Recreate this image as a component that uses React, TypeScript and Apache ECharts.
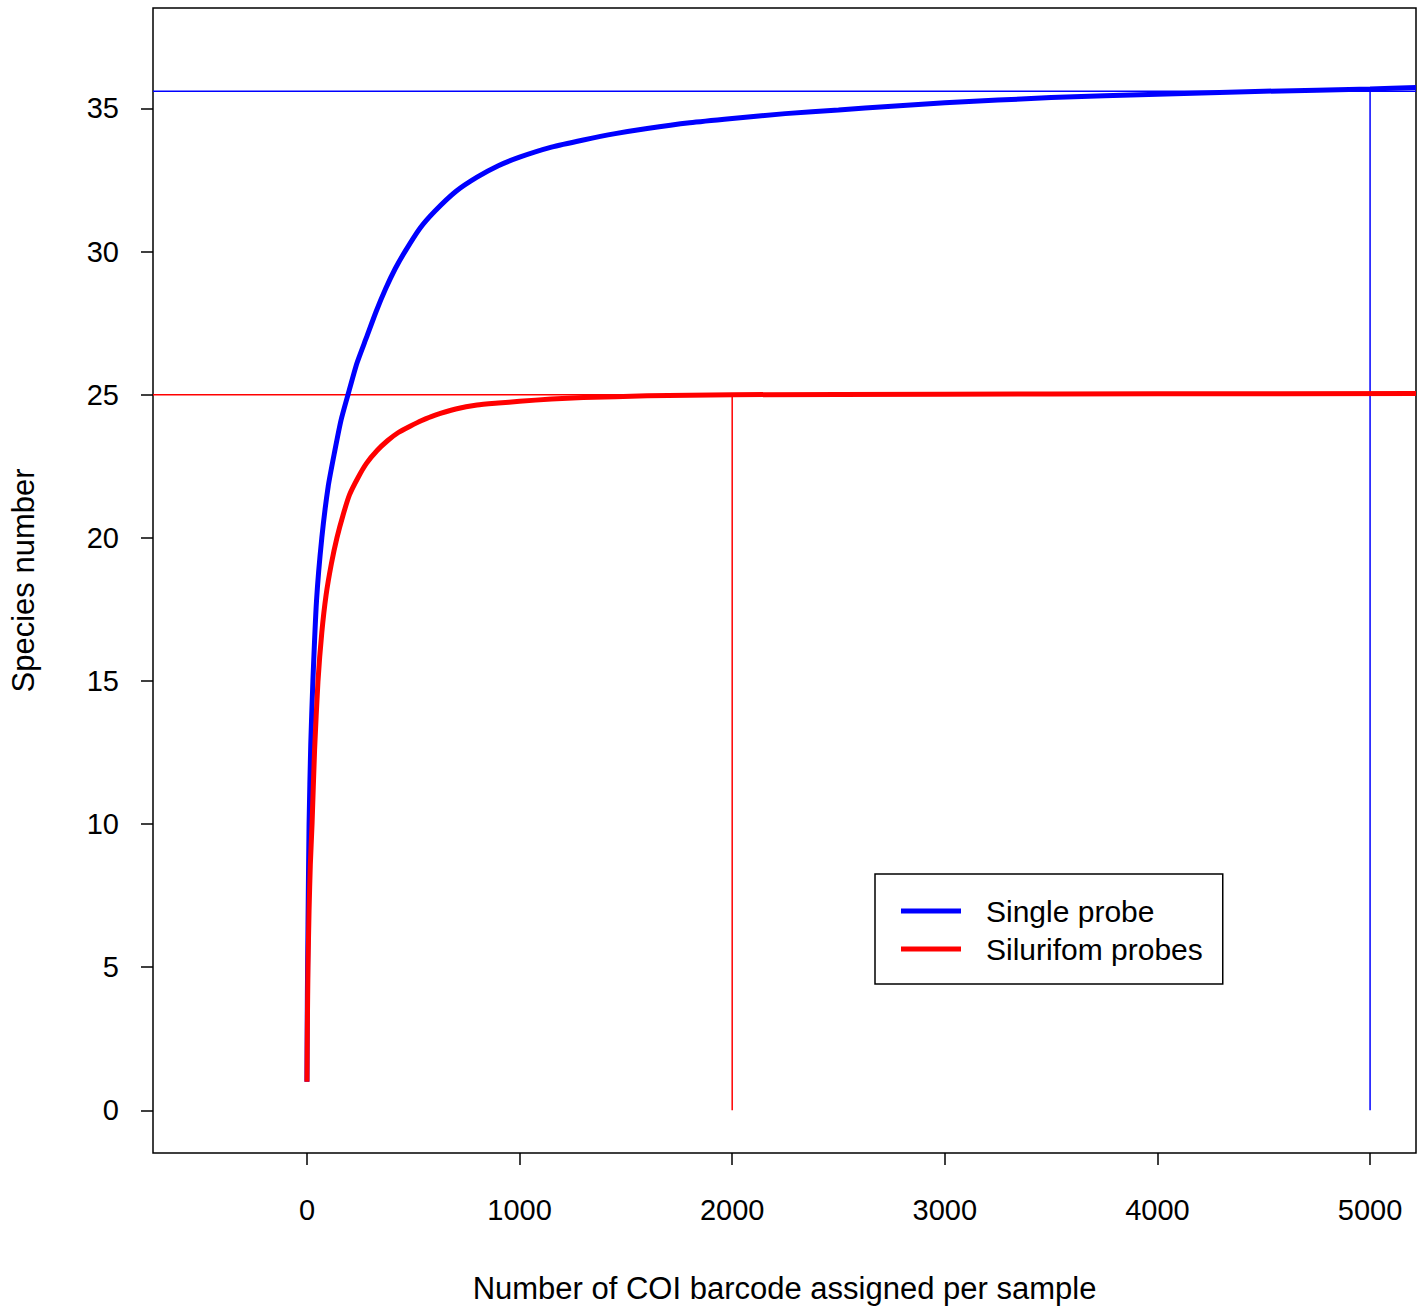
import React, { useEffect, useRef } from "react";
import * as echarts from "echarts";

const xTicks = [0, 1000, 2000, 3000, 4000, 5000];
const yTicks = [0, 5, 10, 15, 20, 25, 30, 35];
const singleX = [0, 2, 5, 10, 18, 28, 45, 70, 100, 130, 160, 193, 235, 280, 325, 370, 415, 461, 530, 600, 700, 800, 900, 1000, 1150, 1300, 1450, 1600, 1800, 2000, 2250, 2500, 2750, 3000, 3500, 4000, 4500, 5000, 5216];
const singleY = [1, 4, 6.5, 10, 12.8, 15, 17.8, 20, 21.8, 23, 24.1, 25, 26.1, 27, 27.9, 28.7, 29.4, 30, 30.8, 31.4, 32.1, 32.6, 33, 33.3, 33.65, 33.9, 34.12, 34.3, 34.5, 34.65, 34.82, 34.95, 35.08, 35.2, 35.38, 35.5, 35.6, 35.68, 35.73];
const probesX = [0, 2, 5, 10, 16, 24, 36, 52, 70, 90, 115, 141, 170, 200, 240, 280, 330, 380, 430, 485, 540, 600, 700, 800, 900, 1000, 1150, 1300, 1600, 2000, 3000, 4000, 5216];
const probesY = [1, 3, 5, 7, 8.6, 10, 12.6, 15, 16.7, 18, 19.1, 20, 20.8, 21.5, 22.1, 22.6, 23.05, 23.4, 23.68, 23.9, 24.1, 24.28, 24.5, 24.64, 24.71, 24.77, 24.85, 24.9, 24.96, 25, 25.02, 25.03, 25.04];
const singleAsym = 35.6;
const probesAsym = 25;
const singleSat = 5000;
const probesSat = 2000;

const zip = (a: number[], b: number[]) => a.map((v, i) => [v, b[i]]);

export default function App() {
  const ref = useRef<HTMLDivElement>(null);
  useEffect(() => {
    const chart = echarts.init(ref.current!, null, { renderer: "svg" });
    const font = "Liberation Sans, Arial, sans-serif";
    const refLine = (data: number[][], color: string) => ({
      type: "line", data, symbol: "none", silent: true,
      lineStyle: { color, width: 1.5 },
    });
    const tickStyle = { color: "#000", width: 1.5 };
    chart.setOption({
      animation: false,
      grid: { left: 153, top: 8, width: 1263, height: 1151, show: true, borderColor: "#000", borderWidth: 1.5, backgroundColor: "transparent" },
      xAxis: {
        type: "value", min: -724, max: 5216,
        name: "Number of COI barcode assigned per sample", nameLocation: "middle", nameGap: 120,
        nameTextStyle: { fontFamily: font, fontSize: 31, color: "#000" },
        axisLine: { show: false, onZero: false },
        axisTick: { show: true, inside: false, length: 12, lineStyle: tickStyle, customValues: xTicks },
        axisLabel: { customValues: xTicks, margin: 42, fontFamily: font, fontSize: 29, color: "#000", formatter: (v: number) => String(v) },
        splitLine: { show: false },
      },
      yAxis: {
        type: "value", min: -1.49, max: 38.51,
        name: "Species number", nameLocation: "middle", nameGap: 114,
        nameTextStyle: { fontFamily: font, fontSize: 31, color: "#000" },
        axisLine: { show: false, onZero: false },
        axisTick: { show: true, inside: false, length: 12, lineStyle: tickStyle, customValues: yTicks },
        axisLabel: { customValues: yTicks, margin: 34, fontFamily: font, fontSize: 29, color: "#000" },
        splitLine: { show: false },
      },
      legend: {
        left: 875, top: 874, width: 352, orient: "vertical",
        padding: [22, 20, 20, 26], itemGap: 8,
        borderColor: "#000", borderWidth: 1.5,
        icon: "rect", itemWidth: 60, itemHeight: 5,
        textStyle: { fontFamily: font, fontSize: 30, color: "#000", padding: [0, 0, 0, 20] },
        data: ["Single probe", "Silurifom probes"],
      },
      series: [
        refLine([[-724, singleAsym], [5216, singleAsym]], "#0000ff"),
        refLine([[singleSat, 0], [singleSat, singleAsym]], "#0000ff"),
        refLine([[-724, probesAsym], [5216, probesAsym]], "#ff0000"),
        refLine([[probesSat, 0], [probesSat, probesAsym]], "#ff0000"),
        { name: "Single probe", type: "line", data: zip(singleX, singleY), symbol: "none", smooth: 0.2, color: "#0000ff", lineStyle: { color: "#0000ff", width: 5 } },
        { name: "Silurifom probes", type: "line", data: zip(probesX, probesY), symbol: "none", smooth: 0.2, color: "#ff0000", lineStyle: { color: "#ff0000", width: 5 } },
      ],
    });
    return () => chart.dispose();
  }, []);
  return <div ref={ref} style={{ position: "absolute", left: 0, top: 0, width: 1424, height: 1309, background: "#fff" }} />;
}
